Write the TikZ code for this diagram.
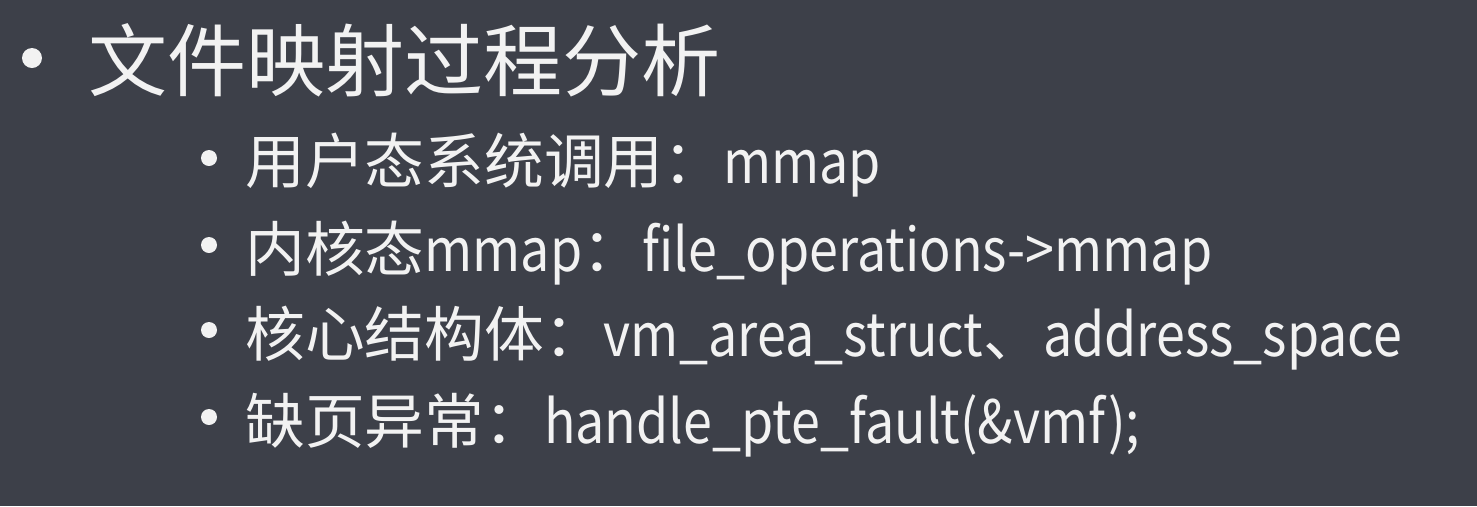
\documentclass[tikz,border=0pt]{standalone}
\usepackage{fontspec}
\setmainfont{Noto Sans CJK SC}
\newfontfamily\latin[FakeStretch=0.87]{Noto Sans CJK SC}
\usepackage{xcolor}
\definecolor{slidebg}{HTML}{3D4049}
\definecolor{slidefg}{HTML}{F2F2F2}
\usetikzlibrary{positioning}

\begin{document}
\begin{tikzpicture}[
	bulletmark/.style={circle,fill=slidefg,draw=none,inner sep=0pt,minimum size=#1},
	title/.style={anchor=base west,inner sep=0pt,text=slidefg,font=\fontsize{45}{50}\selectfont},
	item/.style={anchor=base west,inner sep=0pt,text=slidefg,font=\fontsize{34}{38}\selectfont}]
	\fill[slidebg] (0,0) rectangle (29.54,-10.12);
	\useasboundingbox (0,0) rectangle (29.54,-10.12);

	\node[bulletmark=4mm] (b0) at (0.64,-1.16) {};
	\node[title] (t0) at (1.76,-1.8) {文件映射过程分析};

	\node[bulletmark=3.2mm] (b1) at (4.18,-3.16) {};
	\node[bulletmark=3.2mm] (b2) at (4.18,-4.9) {};
	\node[bulletmark=3.2mm] (b3) at (4.18,-6.6) {};
	\node[bulletmark=3.2mm] (b4) at (4.18,-8.34) {};

	\node[item] (t1) at (4.9,-3.66) {用户态系统调用：{\latin mmap}};
	\node[item] (t2) at (4.9,-5.42) {内核态{\latin mmap}：{\latin file\_operations->mmap}};
	\node[item] (t3) at (4.9,-7.12) {核心结构体：{\latin vm\_area\_struct}、{\latin address\_space}};
	\node[item] (t4) at (4.9,-8.86) {缺页异常：{\latin handle\_pte\_fault(\&vmf);}};

\end{tikzpicture}
\end{document}
